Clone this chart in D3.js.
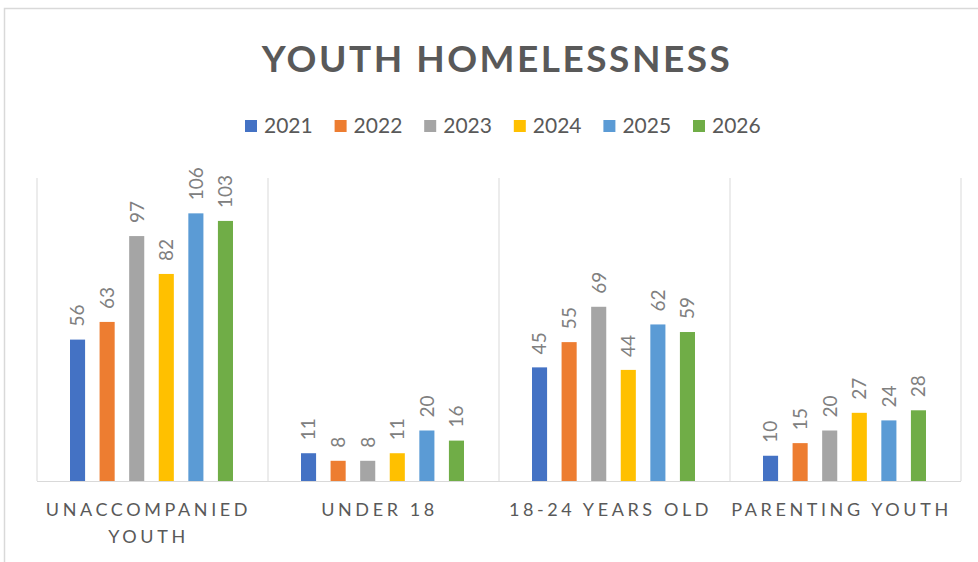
<!DOCTYPE html>
<html>
<head>
<meta charset="utf-8">
<script src="https://cdn.jsdelivr.net/npm/d3@7"></script>
<style>
  html, body { margin: 0; padding: 0; background: #fff; }
  svg { display: block; }
</style>
</head>
<body>
<svg id="chart" width="978" height="562"></svg>
<script>
const title = "YOUTH HOMELESSNESS";
const categories = ["UNACCOMPANIED YOUTH", "UNDER 18", "18-24 YEARS OLD", "PARENTING YOUTH"];
const categoryLines = [["UNACCOMPANIED", "YOUTH"], ["UNDER 18"], ["18-24 YEARS OLD"], ["PARENTING YOUTH"]];
const seriesNames = ["2021", "2022", "2023", "2024", "2025", "2026"];
const values2021 = [56, 11, 45, 10];
const values2022 = [63, 8, 55, 15];
const values2023 = [97, 8, 69, 20];
const values2024 = [82, 11, 44, 27];
const values2025 = [106, 20, 62, 24];
const values2026 = [103, 16, 59, 28];
const colors = ["#4472C4", "#ED7D31", "#A5A5A5", "#FFC000", "#5B9BD5", "#70AD47"];

const seriesValues = [values2021, values2022, values2023, values2024, values2025, values2026];

const svg = d3.select("#chart");
const font = "Lato, 'Noto Sans', sans-serif";

// outer border
svg.append("rect").attr("x", 4.5).attr("y", 8.5).attr("width", 990).attr("height", 600)
  .attr("fill", "#fff").attr("stroke", "#D9D9D9").attr("stroke-width", 1.5);

const plot = { left: 37, right: 961, top: 178, bottom: 481 };

const x0 = d3.scaleBand().domain(categories).range([plot.left, plot.right]).paddingInner(0).paddingOuter(0);
const bw = x0.bandwidth();
const x1 = d3.scaleBand().domain(seriesNames).range([33, 196]).paddingInner(0.49).paddingOuter(0);
const y = d3.scaleLinear().domain([0, 120]).range([plot.bottom, plot.top]);

// separators
const bounds = categories.map(c => x0(c)).concat([plot.right]);
svg.append("g").selectAll("line").data(bounds).join("line")
  .attr("x1", d => d).attr("x2", d => d)
  .attr("y1", plot.top).attr("y2", plot.bottom)
  .attr("stroke", "#D9D9D9").attr("stroke-width", 1);

// bars
const groups = svg.append("g").selectAll("g").data(categories).join("g")
  .attr("transform", c => `translate(${x0(c)},0)`);

groups.each(function(c, ci) {
  const g = d3.select(this);
  const data = seriesNames.map((s, si) => ({ s, si, v: seriesValues[si][ci] }));
  g.selectAll("rect").data(data).join("rect")
    .attr("x", d => x1(d.s)).attr("width", x1.bandwidth())
    .attr("y", d => y(d.v)).attr("height", d => y(0) - y(d.v))
    .attr("fill", d => colors[d.si]);
  g.selectAll("text").data(data).join("text")
    .attr("transform", d => `translate(${x1(d.s) + x1.bandwidth() / 2},${y(d.v) - 13}) rotate(-90)`)
    .attr("dy", "0.36em")
    .attr("text-anchor", "start")
    .attr("font-family", font).attr("font-size", 19)
    .attr("fill", "#808080")
    .text(d => d.v);
});

// baseline
svg.append("line").attr("x1", plot.left).attr("x2", plot.right)
  .attr("y1", plot.bottom + 0.5).attr("y2", plot.bottom + 0.5)
  .attr("stroke", "#D9D9D9").attr("stroke-width", 1);

// category labels
categories.forEach((c, ci) => {
  const t = svg.append("text")
    .attr("text-anchor", "middle")
    .attr("font-family", font).attr("font-size", 18)
    .attr("letter-spacing", 3.6)
    .attr("fill", "#595959");
  categoryLines[ci].forEach((line, li) => {
    t.append("tspan").attr("x", x0(c) + bw / 2 - 4).attr("y", 516 + li * 27).text(line);
  });
});

// title
svg.append("text").attr("x", 497).attr("y", 72)
  .attr("text-anchor", "middle")
  .attr("font-family", font).attr("font-size", 37).attr("font-weight", "bold")
  .attr("letter-spacing", 2.5)
  .attr("fill", "#595959")
  .text(title);

// legend
const legend = svg.append("g").attr("transform", "translate(245,0)");
const items = legend.selectAll("g").data(seriesNames).join("g")
  .attr("transform", (d, i) => `translate(${i * 89.6},0)`);
items.append("rect").attr("x", 0).attr("y", 120).attr("width", 12).attr("height", 12)
  .attr("fill", (d, i) => colors[i]);
items.append("text").attr("x", 19).attr("y", 133)
  .attr("font-family", font).attr("font-size", 21)
  .attr("fill", "#595959")
  .text(d => d);
</script>
</body>
</html>
